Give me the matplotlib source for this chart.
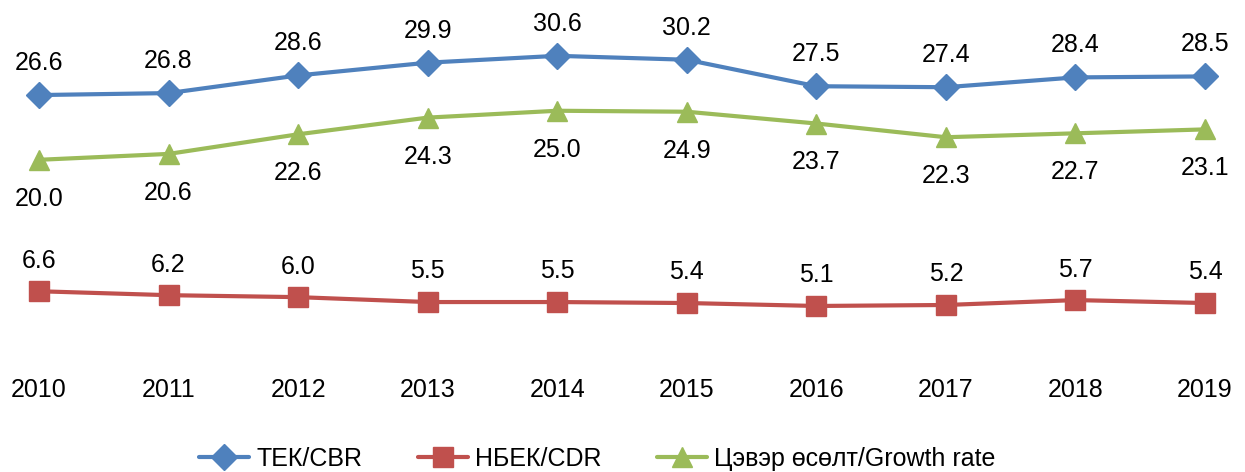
import matplotlib
matplotlib.use("Agg")
import matplotlib.pyplot as plt

plt.rcParams["font.family"] = ["Liberation Sans", "DejaVu Sans"]

# --- data ---
years = [2010, 2011, 2012, 2013, 2014, 2015, 2016, 2017, 2018, 2019]
cbr = [26.6, 26.8, 28.6, 29.9, 30.6, 30.2, 27.5, 27.4, 28.4, 28.5]
cdr = [6.6, 6.2, 6.0, 5.5, 5.5, 5.4, 5.1, 5.2, 5.7, 5.4]
growth = [20.0, 20.6, 22.6, 24.3, 25.0, 24.9, 23.7, 22.3, 22.7, 23.1]
labels = ["ТЕК/CBR", "НБЕК/CDR", "Цэвэр өсөлт/Growth rate"]

W, H = 1245, 472
fig = plt.figure(figsize=(W / 100, H / 100), dpi=100)
# axes spans pixel rows 20..356 (y=0 at bottom), full width
ax = fig.add_axes([0, (H - 356) / H, 1, (356 - 20) / H])

ppy = (1205 - 39) / 9
ax.set_xlim(2010 - 39 / ppy, 2019 + 40 / ppy)
ax.set_ylim(0, (356 - 20) / 9.81)

fs = 18
series = [
    (cbr, "#4F81BD", "D", 13, 23),
    (cdr, "#C0504D", "s", 14, 22),
    (growth, "#9BBB59", "^", 15, -28),
]
for (vals, col, mk, ms, off), lab in zip(series, labels):
    ax.plot(years, vals, color=col, lw=3, marker=mk, markersize=ms,
            markeredgecolor=col, label=lab, solid_capstyle="round")
    for x, v in zip(years, vals):
        ax.annotate(f"{v:.1f}", (x, v), xytext=(0, off),
                    textcoords="offset points", ha="center", va="center",
                    fontsize=fs)

for s in ax.spines.values():
    s.set_visible(False)
ax.set_yticks([])
ax.set_xticks(years)
ax.set_xticklabels([str(y) for y in years], fontsize=fs)
ax.tick_params(axis="x", length=0, pad=16)

fig.legend(loc="lower center", bbox_to_anchor=(0.48, -0.045), ncol=3,
           frameon=False, fontsize=fs, handlelength=2.0, handletextpad=0.3,
           columnspacing=2.2)

fig.savefig("out.png", dpi=100)
plt.close(fig)
